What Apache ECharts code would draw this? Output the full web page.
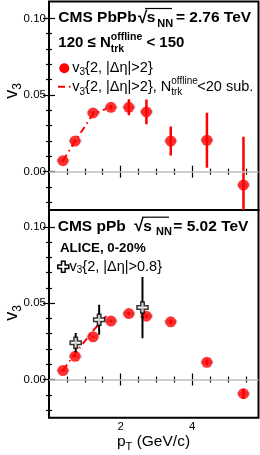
<!DOCTYPE html>
<html><head><meta charset="utf-8">
<script src="https://cdn.jsdelivr.net/npm/echarts@6/dist/echarts.min.js"></script>
<style>html,body{margin:0;padding:0;background:#fff}#c{width:260px;height:455px}</style>
</head><body><div id="c"></div>
<script>
// ---- data ----
const ptCMS = [0.39, 0.73, 1.23, 1.73, 2.23, 2.72, 3.40, 4.41, 5.43];
const v3PbPb = [0.0072, 0.0200, 0.0383, 0.0420, 0.0420, 0.0390, 0.0200, 0.0205, -0.0087];
const statPbPb = [0.0005, 0.0008, 0.0010, 0.0015, 0.0052, 0.0080, 0.0095, 0.0180, 0.0315];
const sysPbPb = [0.0010, 0.0012, 0.0012, 0.0012, 0.0012, 0.0012, 0.0012, 0.0012, 0.0012];
const ptSubPbPb = [0.39, 0.73, 1.23, 1.60];
const v3SubPbPb = [0.0072, 0.0200, 0.0375, 0.0410];

const v3PPb = [0.0059, 0.0152, 0.0280, 0.0383, 0.0432, 0.0415, 0.0378, 0.0113, -0.0093];
const statPPb = [0.0005, 0.0005, 0.0006, 0.0008, 0.0010, 0.0012, 0.0015, 0.0020, 0.0033];
const sysPPb = [0.0010, 0.0012, 0.0012, 0.0012, 0.0012, 0.0012, 0.0012, 0.0012, 0.0012];
const ptSubPPb = [0.39, 0.73, 1.23, 1.60];
const v3SubPPb = [0.0060, 0.0170, 0.0320, 0.0415];

const ptAlice = [0.745, 1.40, 2.61];
const v3Alice = [0.0241, 0.0391, 0.0471];
const statAlice = [0.0063, 0.0098, 0.0200];

const xMajorTicks = [2, 4];
const xMinorTicks = [0.5, 1, 1.5, 2.5, 3, 3.5, 4.5, 5, 5.5];
const yMajorTicks = [0, 0.05, 0.10];
const yMinorTicks = [-0.02, -0.01, 0.01, 0.02, 0.03, 0.04, 0.06, 0.07, 0.08, 0.09];

// ---- layout / style ----
const F = '"Liberation Sans", Arial, Helvetica, sans-serif';
const xMin = 0, xMax = 5.85, yMin = -0.025, yMax = 0.111;
const RED = '#ff0000';
const grids = [
  {left: 49, right: 1.5, top: 1.5, height: 208.5, show: true, borderColor: '#000', borderWidth: 2},
  {left: 49, right: 1.5, top: 210, height: 207.7, show: true, borderColor: '#000', borderWidth: 2}
];
const tickLine = {color: '#000', width: 1.2};

function xAx(g, pos, ticks, len, labels) {
  return {
    type: 'value', gridIndex: g, position: pos, min: xMin, max: xMax,
    axisLine: {show: false}, splitLine: {show: false},
    axisTick: {show: true, inside: true, length: len, customValues: ticks, lineStyle: tickLine},
    axisLabel: labels ? {show: true, customValues: ticks, margin: 3, color: '#000', fontSize: 11.5, fontFamily: F}
                      : {show: false}
  };
}
function yAx(g, pos, ticks, len, labels) {
  return {
    type: 'value', gridIndex: g, position: pos, min: yMin, max: yMax,
    axisLine: {show: false}, splitLine: {show: false},
    axisTick: {show: true, inside: true, length: len, customValues: ticks, lineStyle: tickLine},
    axisLabel: labels ? {show: true, customValues: ticks, margin: 3, color: '#000', fontSize: 11.5, fontFamily: F,
                         formatter: v => v.toFixed(2)}
                      : {show: false}
  };
}
const xAxes = [], yAxes = [];
[0, 1].forEach(g => {
  xAxes.push(xAx(g, 'bottom', xMajorTicks, 6, g === 1), xAx(g, 'bottom', xMinorTicks, 3, false),
             xAx(g, 'top', xMajorTicks, 6, false), xAx(g, 'top', xMinorTicks, 3, false));
  yAxes.push(yAx(g, 'left', yMajorTicks, 6, true), yAx(g, 'left', yMinorTicks, 3, false),
             yAx(g, 'right', yMajorTicks, 6, false), yAx(g, 'right', yMinorTicks, 3, false));
});

function errBars(g, xs, ys, es, color, w, z) {
  return {
    type: 'custom', xAxisIndex: g * 4, yAxisIndex: g * 4, z: z, silent: true, clip: true,
    data: xs.map((x, i) => [x, ys[i], es[i]]),
    renderItem: (p, api) => {
      const x = api.value(0), y = api.value(1), e = api.value(2);
      const a = api.coord([x, y + e]), b = api.coord([x, y - e]);
      return {type: 'line', shape: {x1: a[0], y1: a[1], x2: b[0], y2: b[1]},
              style: {stroke: color, lineWidth: w}};
    }
  };
}
const SYS_HALF_W = 0.18;
function sysBoxes(g, xs, ys, ss, z) {
  return {
    type: 'custom', xAxisIndex: g * 4, yAxisIndex: g * 4, z: z, silent: true, clip: true,
    data: xs.map((x, i) => [x, ys[i], ss[i]]),
    renderItem: (p, api) => {
      const x = api.value(0), y = api.value(1), s = api.value(2);
      const a = api.coord([x - SYS_HALF_W, y + s]), b = api.coord([x + SYS_HALF_W, y - s]);
      return {type: 'rect', shape: {x: a[0], y: a[1], width: b[0] - a[0], height: b[1] - a[1]},
              style: {fill: '#cccccc'}};
    }
  };
}
function points(g, xs, ys, z) {
  return {
    type: 'scatter', xAxisIndex: g * 4, yAxisIndex: g * 4, z: z, silent: true,
    symbol: 'circle', symbolSize: 11, itemStyle: {color: RED},
    data: xs.map((x, i) => [x, ys[i]]),
    markLine: {silent: true, symbol: ['none', 'none'], label: {show: false},
               lineStyle: {color: '#bdbdbd', type: 'solid', width: 1.5}, data: [{yAxis: 0}]}
  };
}
function subLine(g, xs, ys, z) {
  return {
    type: 'line', xAxisIndex: g * 4, yAxisIndex: g * 4, z: z, silent: true, symbol: 'none',
    lineStyle: {color: RED, width: 2, type: [7, 4, 1.5, 4]},
    data: xs.map((x, i) => [x, ys[i]])
  };
}
const CROSS = 'path://M3.4,0H6.6V3.4H10V6.6H6.6V10H3.4V6.6H0V3.4H3.4Z';

const series = [
  sysBoxes(0, ptCMS, v3PbPb, sysPbPb, 1),
  errBars(0, ptCMS, v3PbPb, statPbPb, RED, 2.5, 2),
  subLine(0, ptSubPbPb, v3SubPbPb, 3),
  points(0, ptCMS, v3PbPb, 4),
  sysBoxes(1, ptCMS, v3PPb, sysPPb, 1),
  errBars(1, ptCMS, v3PPb, statPPb, RED, 2.5, 2),
  subLine(1, ptSubPPb, v3SubPPb, 3),
  points(1, ptCMS, v3PPb, 4),
  errBars(1, ptAlice, v3Alice, statAlice, '#000', 2, 5),
  {type: 'scatter', xAxisIndex: 4, yAxisIndex: 4, z: 6, silent: true, symbol: CROSS, symbolSize: 11,
   itemStyle: {color: '#fff', borderColor: '#000', borderWidth: 1.5},
   data: ptAlice.map((x, i) => [x, v3Alice[i]])}
];

// ---- texts ----
const bold = s => 'bold ' + s + 'px ' + F;
const reg = s => s + 'px ' + F;
function txt(x, y, text, font, lh, rich, extra) {
  return Object.assign({type: 'text', x: x, y: y, silent: true, z: 50,
    style: {text: text, font: font, fill: '#000', align: 'left', verticalAlign: 'middle', lineHeight: lh, rich: rich}}, extra || {});
}
function headRich(wA, wR, wS, wSub) {
  return {
    a: {font: bold(15.5), width: wA, align: 'left', fill: '#000'},
    r: {font: bold(17), width: wR, align: 'left', fill: '#000'},
    s: {font: bold(15.5), width: wS, align: 'left', fill: '#000'},
    sub: {font: bold(11), lineHeight: 11, verticalAlign: 'bottom', width: wSub, align: 'left', fill: '#000'}
  };
}
const nRich = {
  sup0: {font: bold(10.5), lineHeight: 11, verticalAlign: 'top', width: 0, fill: '#000'},
  subw: {font: bold(10.5), lineHeight: 11, verticalAlign: 'bottom', width: 31.5, align: 'left', fill: '#000'}
};
const legRich = {
  s: {font: reg(10), lineHeight: 10, verticalAlign: 'bottom', fill: '#000'},
  sup0: {font: reg(10), lineHeight: 10, verticalAlign: 'top', width: 0, fill: '#000'},
  subw: {font: reg(10), lineHeight: 10, verticalAlign: 'bottom', width: 26, align: 'left', fill: '#000'}
};
const graphic = [
  txt(58.3, 18, '{a|CMS PbPb}{r|√}{s|s}{sub|NN}= 2.76 TeV', bold(15.5), 22, headRich(79.7, 8.7, 10.6, 18.7)),
  {type: 'line', shape: {x1: 145, y1: 8.5, x2: 172, y2: 8.5}, style: {stroke: '#000', lineWidth: 1.2}, silent: true, z: 50},
  txt(58.3, 42.8, '120 ≤ N{sup0|offline}{subw|trk} < 150', bold(15), 23, nRich),
  {type: 'circle', shape: {cx: 64.3, cy: 68.3, r: 5}, style: {fill: RED}, silent: true, z: 50},
  txt(72.3, 68.3, 'v{s|3}{2, |Δη|>2}', reg(14.5), 18, legRich),
  {type: 'line', shape: {x1: 58, y1: 86.7, x2: 71, y2: 86.7}, style: {stroke: RED, lineWidth: 2, lineDash: [7, 4, 1.5, 10]}, silent: true, z: 50},
  txt(72.3, 87, 'v{s|3}{2, |Δη|>2}, N{sup0|offline}{subw|trk}<20 sub.', reg(14.5), 21, legRich),
  txt(57.7, 226.7, '{a|CMS pPb}{r|√}{s|s}{sub|NN}= 5.02 TeV', bold(15.5), 22, headRich(76.6, 9, 12.7, 17.3)),
  {type: 'line', shape: {x1: 142, y1: 217.2, x2: 169, y2: 217.2}, style: {stroke: '#000', lineWidth: 1.2}, silent: true, z: 50},
  txt(60, 248.3, 'ALICE, 0-20%', bold(13.3), 16, {}),
  {type: 'polygon', shape: {points: [[61.5,261.2],[65.1,261.2],[65.1,264.9],[68.8,264.9],[68.8,268.5],[65.1,268.5],[65.1,272.2],[61.5,272.2],[61.5,268.5],[57.8,268.5],[57.8,264.9],[61.5,264.9]]},
   style: {fill: '#fff', stroke: '#000', lineWidth: 1.5}, silent: true, z: 50},
  txt(69.5, 266.7, 'v{s|3}{2, |Δη|>0.8}', reg(14.5), 18, legRich),
  txt(12, 91, 'v{s|3}', reg(18), 24, {s: {font: reg(12), lineHeight: 12, verticalAlign: 'bottom', fill: '#000'}}, {rotation: Math.PI / 2}),
  txt(12, 313, 'v{s|3}', reg(18), 24, {s: {font: reg(12), lineHeight: 12, verticalAlign: 'bottom', fill: '#000'}}, {rotation: Math.PI / 2}),
  txt(117, 441.5, 'p{s|T} (GeV/c)', reg(15.5), 22, {s: {font: reg(11), lineHeight: 11, verticalAlign: 'bottom', fill: '#000'}})
];
graphic[12].style.align = 'center';
graphic[13].style.align = 'center';

const chart = echarts.init(document.getElementById('c'), null, {renderer: 'canvas'});
chart.setOption({
  animation: false,
  backgroundColor: '#fff',
  grid: grids,
  xAxis: xAxes,
  yAxis: yAxes,
  series: series,
  graphic: graphic
});
</script>
</body></html>
